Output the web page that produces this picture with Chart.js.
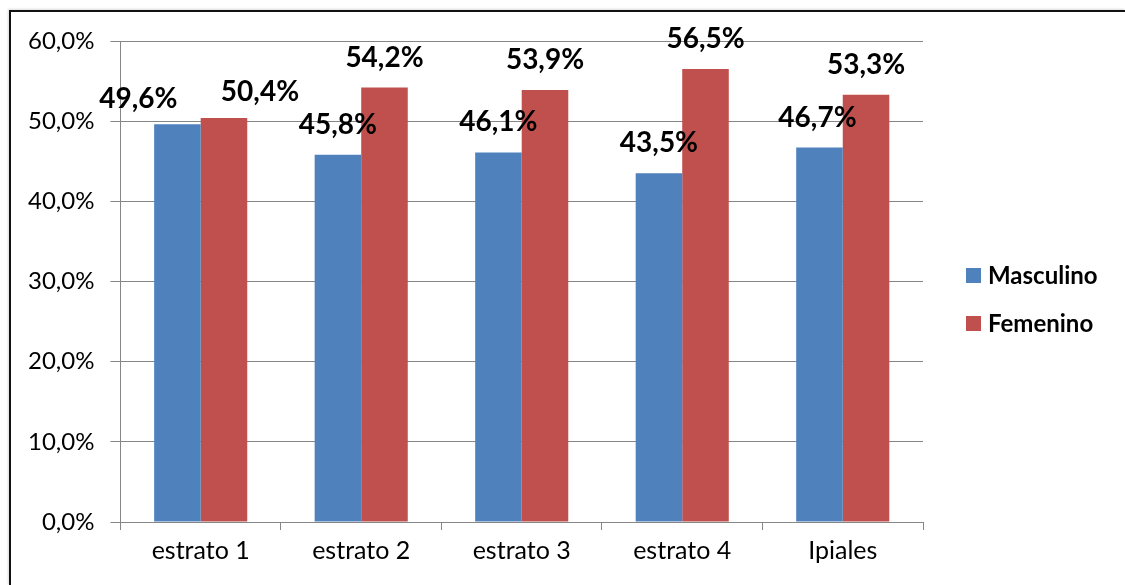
<!DOCTYPE html>
<html lang="es">
<head>
    <meta charset="UTF-8">
    <title>Masculino / Femenino por estrato</title>
    <script src="https://cdn.jsdelivr.net/npm/chart.js"></script>
    <style>
        html, body { margin: 0; padding: 0; background: #fff; }
        .wrap { position: relative; width: 1125px; height: 585px; }
        .frame {
            position: absolute; left: 9px; top: 10px; right: 0; bottom: 0;
            border-left: 2px solid #111; border-top: 2px solid #111;
            box-shadow: -1px -1px 2px rgba(0,0,0,0.15);
            pointer-events: none;
        }
        canvas { position: absolute; left: 0; top: 0; }
    </style>
</head>
<body>
<div class="wrap">
    <canvas id="chart" width="1125" height="585"></canvas>
    <div class="frame"></div>
</div>

<script>
    const categories = ['estrato 1', 'estrato 2', 'estrato 3', 'estrato 4', 'Ipiales'];
    const masculino = [49.6, 45.8, 46.1, 43.5, 46.7];
    const femenino = [50.4, 54.2, 53.9, 56.5, 53.3];
    const yTicks = [0, 10, 20, 30, 40, 50, 60];

    const FONT = 'Lato, "Open Sans", sans-serif';
    const fmt = v => v.toFixed(1).replace('.', ',') + '%';

    // labels in the first group were pushed sideways so they don't collide
    const labelNudge = [
        [[-39, 5], [0, 0], [0, 0], [0, 0], [-2, 0]],
        [[36, 4], [0, 0], [0, 0], [0, 0], [0, 0]]
    ];

    const valueLabels = {
        id: 'valueLabels',
        afterDatasetsDraw(chart) {
            const ctx = chart.ctx;
            ctx.save();
            ctx.font = 'bold 28px ' + FONT;
            ctx.fillStyle = '#000';
            ctx.textAlign = 'center';
            ctx.textBaseline = 'middle';
            chart.data.datasets.forEach((ds, di) => {
                chart.getDatasetMeta(di).data.forEach((bar, i) => {
                    const n = labelNudge[di][i];
                    ctx.fillText(fmt(ds.data[i]), bar.x + n[0], bar.y - 30 + n[1]);
                });
            });
            ctx.restore();
        }
    };

    const sideLegend = {
        id: 'sideLegend',
        afterDraw(chart) {
            const ctx = chart.ctx;
            ctx.save();
            ctx.font = 'bold 24px ' + FONT;
            ctx.textBaseline = 'middle';
            chart.data.datasets.forEach((ds, di) => {
                const y = 275 + di * 48;
                ctx.fillStyle = ds.backgroundColor;
                ctx.fillRect(966, y - 7, 15, 15);
                ctx.fillStyle = '#000';
                ctx.fillText(ds.label, 988, y + 1);
            });
            ctx.restore();
        }
    };

    new Chart(document.getElementById('chart'), {
        type: 'bar',
        data: {
            labels: categories,
            datasets: [
                { label: 'Masculino', data: masculino, backgroundColor: '#4F81BD' },
                { label: 'Femenino', data: femenino, backgroundColor: '#C0504D' }
            ]
        },
        options: {
            responsive: false,
            animation: false,
            layout: { padding: { left: 12, top: 41, right: 202, bottom: 13 } },
            datasets: { bar: { categoryPercentage: 0.58, barPercentage: 1 } },
            plugins: { legend: { display: false }, tooltip: { enabled: false } },
            scales: {
                x: {
                    offset: true,
                    grid: { offset: true, drawOnChartArea: false, color: '#868686', tickLength: 8 },
                    border: { color: '#868686' },
                    ticks: { color: '#000', font: { family: FONT, size: 25 }, padding: 6 }
                },
                y: {
                    min: yTicks[0],
                    max: yTicks[yTicks.length - 1],
                    afterBuildTicks: axis => { axis.ticks = yTicks.map(v => ({ value: v })); },
                    grid: { color: '#868686', tickLength: 10 },
                    border: { color: '#868686' },
                    ticks: { color: '#000', font: { family: FONT, size: 24 }, padding: 16, callback: v => fmt(v) }
                }
            }
        },
        plugins: [valueLabels, sideLegend]
    });
</script>
</body>
</html>
